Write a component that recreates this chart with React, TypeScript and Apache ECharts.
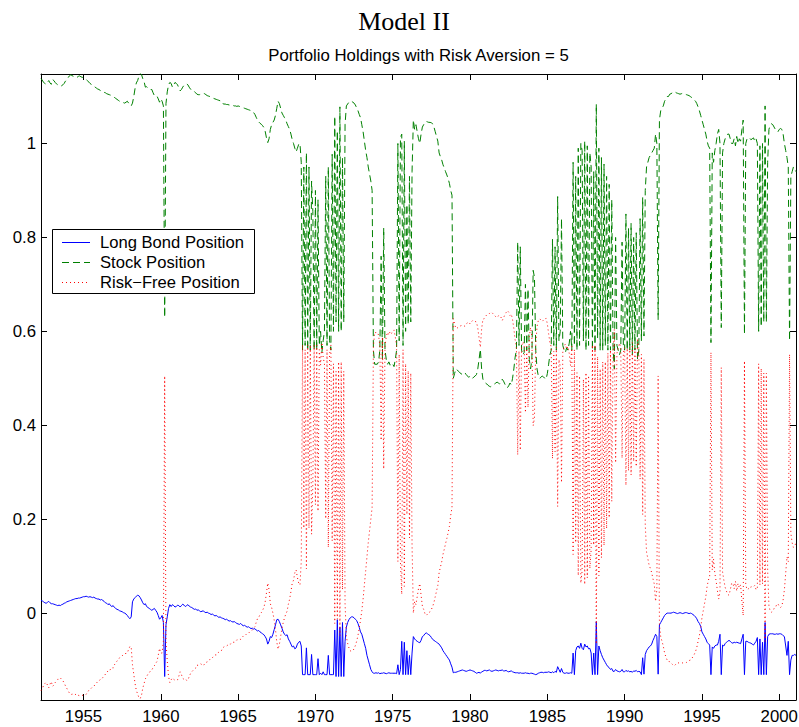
import React, { useEffect, useRef } from "react";
import * as echarts from "echarts";

// Monthly observations, first one = April 1952. Values are in thousandths.
const startYear = 1952;
const startMonth = 4;

const bondPos = [
  27, 26, 24, 22, 21, 23, 25, 22, 20,
  20, 19, 18, 17, 16, 17, 16, 18, 19, 21, 22, 24,
  25, 26, 27, 28, 29, 30, 31, 31, 32, 32, 33, 34,
  35, 35, 36, 35, 34, 35, 34, 33, 34, 32, 31, 30,
  30, 28, 29, 27, 25, 22, 21, 18, 20, 16, 14, 16,
  12, 10, 8, 7, 5, 4, 3, 1, 0, -2, -5, -9,
  -12, -8, 24, 30, 33, 36, 38, 37, 33, 28, 22, 18,
  20, 14, 12, 10, 8, 6, 8, 10, 6, 2, -5, -13,
  -10, -5, -20, -135, -25, -8, 10, 18, 14, 18, 16, 13,
  14, 17, 16, 13, 16, 19, 17, 14, 16, 18, 15, 13,
  12, 10, 8, 9, 6, 7, 5, 3, 4, 5, 2, 1,
  2, 0, -1, -3, -2, -4, -6, -5, -7, -9, -8, -10,
  -11, -12, -14, -13, -15, -17, -16, -18, -19, -18, -20, -22,
  -23, -24, -22, -25, -27, -26, -28, -30, -29, -31, -33, -32,
  -34, -33, -36, -38, -37, -40, -42, -44, -46, -50, -55, -66,
  -60, -50, -52, -45, -35, -25, -14, -13, -18, -25, -32, -40,
  -45, -48, -46, -55, -60, -66, -72, -70, -76, -74, -66, -62,
  -60, -70, -131, -131, -131, -74, -131, -131, -131, -88, -131, -131,
  -131, -131, -97, -131, -128, -131, -125, -131, -131, -131, -90, -131,
  -131, -131, -131, -36, -135, -14, -135, -30, -135, -20, -135, -60,
  -30, -20, -14, -10, -8, -8, -10, -13, -16, -22, -30, -40,
  -45, -55, -65, -75, -90, -100, -110, -120, -125, -128, -128, -127,
  -128, -127, -129, -128, -128, -127, -128, -129, -128, -127, -128, -128,
  -128, -128, -128, -129, -110, -131, -120, -60, -131, -62, -131, -80,
  -131, -90, -131, -85, -50, -55, -58, -60, -62, -63, -58, -50,
  -48, -44, -42, -44, -46, -48, -52, -56, -58, -60, -62, -64,
  -66, -70, -74, -80, -84, -88, -92, -96, -100, -108, -115, -127,
  -126, -126, -125, -124, -123, -122, -121, -122, -123, -124, -123, -122,
  -121, -122, -123, -124, -126, -128, -127, -126, -128, -125, -124, -122,
  -122, -123, -122, -121, -123, -124, -123, -122, -121, -122, -123, -122,
  -122, -121, -123, -123, -122, -124, -125, -124, -123, -125, -126, -127,
  -127, -127, -128, -127, -128, -128, -128, -127, -128, -128, -129, -128,
  -128, -129, -130, -131, -130, -128, -127, -126, -126, -127, -126, -126,
  -126, -125, -126, -127, -125, -127, -124, -126, -114, -120, -126, -118,
  -126, -128, -128, -127, -128, -128, -127, -128, -85, -131, -80, -72,
  -70, -75, -64, -75, -78, -66, -72, -70, -76, -75, -85, -131,
  -85, -131, -18, -131, -70, -80, -88, -95, -100, -105, -110, -114,
  -116, -120, -118, -124, -124, -120, -123, -124, -125, -124, -120, -125,
  -125, -122, -124, -123, -125, -124, -126, -123, -124, -122, -125, -124,
  -125, -131, -95, -130, -88, -80, -76, -72, -70, -66, -58, -52,
  -45, -50, -130, -25, -20, -15, -10, -5, -2, 0, 0, 0,
  0, 1, 2, 1, 0, -1, 0, 1, 0, -1, 0, 1,
  1, 0, -1, 0, -1, -3, -5, -8, -12, -18, -22, -28,
  -40, -45, -50, -55, -62, -65, -68, -131, -72, -75, -70, -68,
  -68, -60, -45, -131, -68, -70, -65, -62, -60, -58, -60, -63,
  -64, -62, -63, -62, -63, -64, -65, -55, -45, -131, -60, -60,
  -62, -63, -64, -66, -68, -64, -60, -52, -131, -55, -131, -62,
  -131, -20, -131, -50, -45, -44, -44, -44, -45, -45, -44, -45,
  -44, -44, -45, -48, -50, -70, -90, -60, -131, -100, -90, -90,
  -88, -90,
];

const stockPos = [
  1138, 1135, 1130, 1128, 1126, 1130, 1134, 1129, 1126,
  1136, 1134, 1130, 1127, 1125, 1124, 1122, 1123, 1125, 1128, 1133, 1136,
  1140, 1144, 1146, 1145, 1143, 1144, 1142, 1141, 1143, 1144, 1142, 1141,
  1140, 1139, 1137, 1134, 1131, 1128, 1126, 1124, 1122, 1120, 1118, 1116,
  1115, 1113, 1112, 1110, 1109, 1108, 1106, 1105, 1104, 1103, 1102, 1101,
  1098, 1096, 1094, 1092, 1090, 1089, 1088, 1087, 1086, 1088, 1090, 1086,
  1083, 1080, 1086, 1100, 1117, 1129, 1134, 1143, 1149, 1147, 1138, 1132,
  1120, 1121, 1118, 1117, 1115, 1115, 1108, 1102, 1101, 1101, 1095, 1088,
  1095, 1090, 1080, 630, 1085, 1110, 1125, 1130, 1128, 1120, 1125, 1130,
  1128, 1125, 1118, 1112, 1115, 1120, 1124, 1126, 1127, 1125, 1120, 1116,
  1113, 1112, 1111, 1108, 1105, 1104, 1104, 1105, 1106, 1107, 1106, 1104,
  1102, 1101, 1100, 1098, 1097, 1096, 1095, 1094, 1093, 1092, 1091, 1090,
  1085, 1084, 1084, 1083, 1083, 1082, 1082, 1081, 1081, 1080, 1080, 1079,
  1080, 1079, 1078, 1077, 1076, 1075, 1074, 1073, 1072, 1071, 1070, 1068,
  1066, 1062, 1056, 1050, 1046, 1043, 1041, 1038, 1034, 1026, 1012, 1002,
  1010, 1030, 1040, 1045, 1050, 1060, 1075, 1090, 1085, 1075, 1065, 1060,
  1055, 1050, 1042, 1036, 1030, 1020, 1008, 1000, 990, 982, 990, 998,
  1000, 960, 560, 950, 570, 980, 560, 950, 560, 920, 855, 560,
  900, 560, 880, 570, 600, 555, 580, 600, 930, 570, 950, 580,
  560, 977, 600, 1058, 620, 1027, 600, 1078, 600, 970, 620, 1040,
  1080, 1084, 1088, 1090, 1090, 1088, 1086, 1082, 1076, 1070, 1062, 1055,
  1040, 1025, 1005, 985, 970, 950, 935, 920, 900, 560, 530, 530,
  530, 535, 560, 760, 540, 820, 560, 540, 530, 535, 528, 532,
  530, 525, 540, 560, 1000, 580, 1013, 1020, 570, 1005, 600, 870,
  615, 930, 620, 940, 1050, 1030, 1040, 1025, 1010, 1000, 1020, 1035,
  1040, 1045, 1047, 1046, 1045, 1045, 1044, 1042, 1035, 1025, 1015, 1005,
  980, 972, 965, 955, 948, 940, 933, 925, 915, 900, 890, 500,
  510, 520, 518, 515, 512, 510, 508, 510, 512, 508, 505, 502,
  505, 502, 500, 503, 505, 508, 520, 540, 562, 520, 498, 495,
  490, 488, 485, 483, 482, 484, 486, 488, 490, 492, 490, 488,
  492, 498, 494, 488, 482, 480, 484, 490, 486, 500, 520, 545,
  560, 790, 570, 780, 560, 550, 555, 700, 560, 690, 540, 520,
  540, 730, 715, 560, 520, 505, 500, 502, 505, 503, 500, 498,
  510, 530, 550, 560, 796, 570, 780, 560, 887, 580, 600, 840,
  570, 560, 555, 565, 560, 575, 600, 560, 960, 570, 930, 560,
  990, 570, 1000, 985, 580, 1005, 560, 995, 570, 980, 950, 560,
  940, 560, 1084, 585, 990, 560, 970, 560, 956, 570, 930, 560,
  913, 560, 880, 565, 520, 800, 570, 560, 550, 560, 790, 570,
  560, 850, 560, 820, 560, 830, 550, 800, 560, 810, 540, 560,
  840, 580, 885, 590, 900, 950, 960, 970, 975, 980, 985, 990,
  1020, 1000, 625, 1050, 1070, 1075, 1080, 1090, 1095, 1100, 1100, 1105,
  1106, 1108, 1110, 1110, 1108, 1107, 1106, 1105, 1106, 1107, 1106, 1105,
  1104, 1103, 1102, 1100, 1098, 1096, 1093, 1090, 1085, 1078, 1070, 1060,
  1050, 1040, 1030, 1020, 1005, 995, 990, 576, 980, 960, 985, 1000,
  1020, 1030, 1000, 608, 980, 1000, 1010, 1015, 1020, 1020, 1010, 1000,
  1000, 1010, 995, 1015, 1000, 1010, 1005, 1030, 1050, 594, 1000, 1010,
  1010, 1012, 1008, 1010, 1012, 1005, 1010, 1000, 600, 995, 610, 1000,
  620, 1080, 620, 960, 1030, 1040, 1042, 1040, 1035, 1030, 1028, 1025,
  1030, 1032, 1030, 1020, 1000, 985, 970, 950, 580, 930, 940, 950,
  945, 940,
];

const riskFreePos = [
  -165, -161, -154, -150, -147, -153, -159, -151, -146,
  -156, -153, -148, -144, -141, -141, -138, -141, -144, -149, -155, -160,
  -165, -170, -173, -173, -172, -174, -173, -172, -175, -176, -175, -175,
  -175, -174, -173, -169, -165, -163, -160, -157, -156, -152, -149, -146,
  -145, -141, -141, -137, -134, -130, -127, -123, -124, -119, -116, -117,
  -110, -106, -102, -99, -95, -93, -91, -88, -86, -86, -85, -77,
  -71, -72, -110, -130, -150, -165, -172, -180, -182, -175, -160, -150,
  -140, -135, -130, -127, -123, -121, -116, -112, -107, -103, -90, -75,
  -85, -85, -60, 505, -60, -102, -135, -148, -142, -138, -141, -143,
  -142, -142, -134, -125, -131, -139, -141, -140, -143, -143, -135, -129,
  -125, -122, -119, -117, -111, -111, -109, -108, -110, -112, -108, -105,
  -104, -101, -99, -95, -95, -92, -89, -89, -86, -83, -83, -80,
  -74, -72, -70, -70, -68, -65, -66, -63, -62, -62, -60, -57,
  -57, -55, -56, -52, -49, -49, -46, -43, -43, -40, -37, -36,
  -32, -29, -20, -12, -9, -3, 1, 6, 12, 24, 43, 64,
  50, 20, 12, 0, -15, -35, -61, -77, -67, -50, -33, -20,
  -10, -2, 4, 19, 30, 46, 64, 70, 86, 92, 76, 64,
  60, 110, 571, 181, 561, 94, 571, 181, 571, 168, 276, 571,
  231, 571, 217, 561, 528, 576, 545, 531, 201, 561, 140, 551,
  571, 154, 531, -22, 515, -13, 535, -48, 535, 50, 515, 20,
  -50, -64, -74, -80, -82, -80, -76, -69, -60, -48, -32, -15,
  5, 30, 60, 90, 120, 150, 175, 200, 225, 568, 598, 597,
  598, 592, 569, 368, 588, 307, 568, 589, 598, 592, 600, 596,
  598, 603, 588, 569, 110, 551, 107, 40, 561, 57, 531, 210,
  516, 160, 511, 145, 0, 25, 18, 35, 52, 63, 38, 15,
  8, -1, -5, -2, 1, 3, 8, 14, 23, 35, 47, 59,
  86, 98, 109, 125, 136, 148, 159, 171, 185, 208, 225, 627,
  616, 606, 607, 609, 611, 612, 613, 612, 611, 616, 618, 620,
  616, 620, 623, 621, 621, 620, 607, 586, 566, 605, 626, 627,
  632, 635, 637, 638, 641, 640, 637, 634, 631, 630, 633, 634,
  630, 623, 629, 635, 640, 644, 641, 634, 637, 625, 606, 582,
  567, 337, 558, 347, 568, 578, 573, 427, 568, 438, 589, 608,
  588, 399, 415, 571, 610, 623, 627, 624, 621, 624, 626, 628,
  616, 595, 576, 567, 329, 557, 344, 566, 227, 540, 526, 278,
  556, 568, 573, 562, 568, 553, 527, 568, 125, 561, 150, 512,
  80, 505, 64, 90, 498, 61, 512, 75, 506, 95, 135, 571,
  145, 571, -66, 546, 80, 520, 118, 535, 144, 535, 180, 554,
  203, 560, 238, 559, 604, 320, 553, 564, 575, 564, 330, 555,
  565, 272, 564, 303, 565, 294, 576, 323, 564, 312, 585, 564,
  285, 551, 210, 540, 188, 130, 116, 102, 95, 86, 73, 62,
  25, 50, 505, -25, -50, -60, -70, -85, -93, -100, -100, -105,
  -106, -109, -112, -111, -108, -106, -106, -106, -106, -106, -106, -106,
  -105, -103, -101, -100, -97, -93, -88, -82, -73, -60, -48, -32,
  -10, 5, 20, 35, 57, 70, 78, 555, 92, 115, 85, 68,
  48, 30, 45, 523, 88, 70, 55, 47, 40, 38, 50, 63,
  64, 52, 68, 47, 63, 54, 60, 25, -5, 537, 60, 50,
  52, 51, 56, 56, 56, 59, 50, 52, 531, 60, 521, 62,
  511, -60, 511, 90, 15, 4, 2, 4, 10, 15, 16, 20,
  14, 12, 15, 28, 50, 85, 120, 110, 551, 170, 150, 140,
  143, 150,
];

const xTicks = [1955, 1960, 1965, 1970, 1975, 1980, 1985, 1990, 1995, 2000];
const yTicks = [0, 0.2, 0.4, 0.6, 0.8, 1];
const seriesNames = ["Long Bond Position", "Stock Position", "Risk\u2212Free Position"];

const X_MIN = 1952.25;
const X_MAX = 2001.0833;
const Y_MIN = -0.185;
const Y_MAX = 1.148;

const FONT = '"Liberation Sans", Arial, Helvetica, sans-serif';

function toPairs(arr: number[]) {
  return arr.map((v, i) => [startYear + (startMonth - 1 + i) / 12, v / 1000]);
}

function makeX(position: "bottom" | "top", labels: boolean) {
  return {
    type: "value",
    position,
    min: X_MIN,
    max: X_MAX,
    axisLine: { show: true, onZero: false, lineStyle: { color: "#000", width: 1 } },
    axisTick: { show: true, inside: true, length: 6, customValues: xTicks, lineStyle: { color: "#000", width: 1 } },
    axisLabel: {
      show: labels,
      customValues: xTicks,
      formatter: (v: number) => String(v),
      color: "#000",
      fontSize: 16.8,
      fontFamily: FONT,
      margin: 8,
    },
    splitLine: { show: false },
  };
}

function makeY(position: "left" | "right", labels: boolean) {
  return {
    type: "value",
    position,
    min: Y_MIN,
    max: Y_MAX,
    axisLine: { show: true, onZero: false, lineStyle: { color: "#000", width: 1 } },
    axisTick: { show: true, inside: true, length: 6, customValues: yTicks, lineStyle: { color: "#000", width: 1 } },
    axisLabel: {
      show: labels,
      customValues: yTicks,
      formatter: (v: number) => String(Math.round(v * 10) / 10),
      color: "#000",
      fontSize: 16.8,
      fontFamily: FONT,
      margin: 5,
    },
    splitLine: { show: false },
  };
}

export default function App() {
  const ref = useRef<HTMLDivElement>(null);

  useEffect(() => {
    if (!ref.current) return;
    const chart = echarts.init(ref.current, null, { renderer: "svg" });

    const legendX = 52.5;
    const legendY = 229.5;
    const rowY = [242, 262, 282];
    const legendLines = [
      { stroke: "#0000ff", lineDash: null as number[] | null },
      { stroke: "#008000", lineDash: [7, 4] },
      { stroke: "#ff0000", lineDash: [1, 3] },
    ];

    const graphics: any[] = [
      {
        type: "text",
        x: 404,
        y: 21,
        style: { text: "Model II", fill: "#000", font: '26px "Liberation Serif", "Times New Roman", serif', align: "center", verticalAlign: "middle" },
      },
      {
        type: "text",
        x: 418.5,
        y: 55,
        style: { text: "Portfolio Holdings with Risk Aversion = 5", fill: "#000", font: "16.8px " + FONT, align: "center", verticalAlign: "middle" },
      },
      {
        type: "rect",
        z: 100,
        shape: { x: legendX, y: legendY, width: 202, height: 64 },
        style: { fill: "#fff", stroke: "#000", lineWidth: 1 },
      },
    ];
    seriesNames.forEach((name, i) => {
      graphics.push({
        type: "line",
        z: 101,
        shape: { x1: 62, y1: rowY[i] + 0.5, x2: 90, y2: rowY[i] + 0.5 },
        style: { stroke: legendLines[i].stroke, lineWidth: 1, lineDash: legendLines[i].lineDash },
      });
      graphics.push({
        type: "text",
        z: 101,
        x: 100,
        y: rowY[i],
        style: { text: name, fill: "#000", font: "16.6px " + FONT, align: "left", verticalAlign: "middle" },
      });
    });

    chart.setOption({
      animation: false,
      backgroundColor: "#fff",
      grid: { left: 41, right: 3, top: 74, bottom: 27, containLabel: false, outerBoundsMode: "none" },
      xAxis: [makeX("bottom", true), makeX("top", false)],
      yAxis: [makeY("left", true), makeY("right", false)],
      series: [
        {
          name: seriesNames[0],
          type: "line",
          xAxisIndex: 0,
          yAxisIndex: 0,
          data: toPairs(bondPos),
          symbol: "none",
          showSymbol: false,
          silent: true,
          lineStyle: { color: "#0000ff", width: 1 },
          itemStyle: { color: "#0000ff" },
        },
        {
          name: seriesNames[1],
          type: "line",
          xAxisIndex: 0,
          yAxisIndex: 0,
          data: toPairs(stockPos),
          symbol: "none",
          showSymbol: false,
          silent: true,
          lineStyle: { color: "#008000", width: 1, type: [7, 4] },
          itemStyle: { color: "#008000" },
        },
        {
          name: seriesNames[2],
          type: "line",
          xAxisIndex: 0,
          yAxisIndex: 0,
          data: toPairs(riskFreePos),
          symbol: "none",
          showSymbol: false,
          silent: true,
          lineStyle: { color: "#ff0000", width: 1, type: [1, 3] },
          itemStyle: { color: "#ff0000" },
        },
      ],
      graphic: graphics,
    });

    return () => chart.dispose();
  }, []);

  return (
    <div
      ref={ref}
      style={{ position: "fixed", left: 0, top: 0, width: 799, height: 727, background: "#fff" }}
    />
  );
}
